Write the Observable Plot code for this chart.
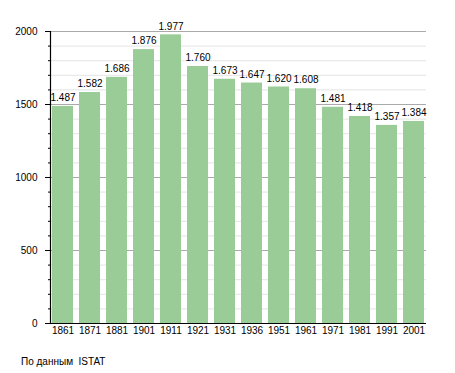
<!DOCTYPE html>
<html>
<head>
<meta charset="utf-8">
<script src="https://cdn.jsdelivr.net/npm/d3@7"></script>
<script src="https://cdn.jsdelivr.net/npm/@observablehq/plot@0.6"></script>
<style>
  body { margin: 0; background: #fff; font-family: "Liberation Sans", Arial, sans-serif; }
  #caption { font-size: 10px; line-height: 12px; padding-left: 21px; margin-top: 11px; color: #000; white-space: pre; }
</style>
</head>
<body>
<div id="chart"></div>
<div id="caption">По данным  ISTAT</div>
<script>
const years = ["1861","1871","1881","1901","1911","1921","1931","1936","1951","1961","1971","1981","1991","2001"];
const population = [1487,1582,1686,1876,1977,1760,1673,1647,1620,1608,1481,1418,1357,1384];
const majorTicks = [0,500,1000,1500,2000];
const minorTicks = d3.range(0, 2001, 100);

const data = years.map((y, i) => ({year: y, value: population[i]}));
const fmt = d3.formatLocale({decimal: ",", thousands: ".", grouping: [3], currency: ["", ""]}).format(",");

const chart = Plot.plot({
  width: 455,
  height: 345,
  marginLeft: 50,
  marginRight: 29,
  marginTop: 31,
  marginBottom: 22,
  style: {fontFamily: "Liberation Sans, Arial, sans-serif", fontSize: "10px", background: "#fff"},
  x: {domain: years, paddingInner: 0.24, paddingOuter: 0.02, label: null},
  y: {domain: [0, 2000], label: null},
  marks: [
    Plot.ruleY(minorTicks.filter(d => d % 500 !== 0), {stroke: "#e4e4e4", strokeWidth: 1}),
    Plot.ruleY(majorTicks.filter(d => d > 0), {stroke: "#aaaaaa", strokeWidth: 1}),
    Plot.barY(data, {x: "year", y: "value", fill: "#99cc96"}),
    Plot.text(data, {x: "year", y: "value", text: d => fmt(d.value), dy: -8.5, fontSize: 10, fill: "#000"}),
    Plot.axisY(minorTicks, {tickSize: 2, text: null, stroke: "#000", strokeOpacity: 1}),
    Plot.axisY(majorTicks, {tickSize: 5, tickPadding: 8, tickFormat: d => String(d), fontSize: 10, stroke: "#000", strokeOpacity: 1, fill: "#000"}),
    Plot.frame({anchor: "left", stroke: "#000", strokeWidth: 1.2}),
    Plot.axisX({tickSize: 0, tickPadding: 3, fontSize: 10, fill: "#000"}),
    Plot.ruleY([0], {stroke: "#000", strokeWidth: 1.2})
  ]
});
document.getElementById("chart").appendChild(chart);
</script>
</body>
</html>
